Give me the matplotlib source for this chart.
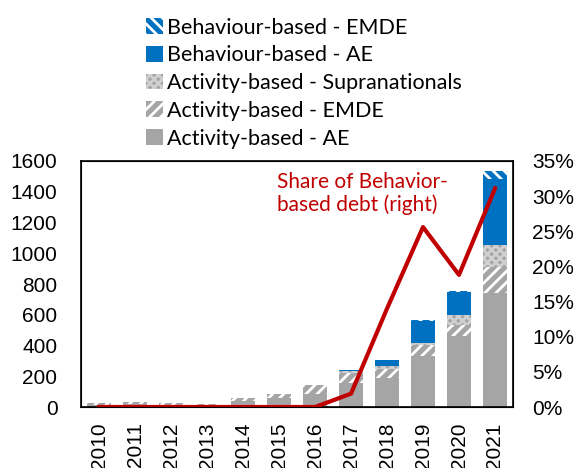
import matplotlib.pyplot as plt
import numpy as np

years = ['2010', '2011', '2012', '2013', '2014', '2015',
         '2016', '2017', '2018', '2019', '2020', '2021']

# stacked components (USD bn)
act_ae = [15, 20, 15, 12, 42, 61, 85, 159, 188, 330, 462, 741]
act_emde = [10, 15, 13, 10, 19, 22, 56, 60, 62, 71, 69, 169]
act_supra = [0, 0, 0, 0, 0, 0, 0, 14, 14, 18, 69, 146]
beh_ae = [0, 0, 0, 0, 0, 0, 0, 5, 44, 142, 149, 429]
beh_emde = [0, 0, 0, 0, 0, 0, 0, 0, 0, 3, 5, 49]

# share of behaviour-based debt, percent (right axis)
share = [0, 0, 0, 0, 0, 0, 0, 1.9, 14.0, 25.6, 18.8, 31.1]

gray = '#a5a5a5'
blue = '#0070c0'
red = '#c00000'

plt.rcParams['font.family'] = ['Liberation Sans', 'DejaVu Sans']
plt.rcParams['hatch.linewidth'] = 2.0

fig = plt.figure(figsize=(5.79, 4.68), dpi=100)
ax = fig.add_axes([0.14, 0.1303, 0.746, 0.5257])

x = np.arange(len(years))
w = 0.67

b0 = np.zeros(len(years))
h1 = ax.bar(x, act_ae, w, bottom=b0, color=gray, linewidth=0,
            label='Activity-based - AE')
b0 = b0 + act_ae
h2 = ax.bar(x, act_emde, w, bottom=b0, facecolor=gray, edgecolor='white',
            hatch='///', linewidth=0, label='Activity-based - EMDE')
b0 = b0 + act_emde
h3 = ax.bar(x, act_supra, w, bottom=b0, facecolor=gray, edgecolor='#d0d0d0',
            hatch='xxxx', linewidth=0, label='Activity-based - Supranationals')
b0 = b0 + act_supra
h4 = ax.bar(x, beh_ae, w, bottom=b0, color=blue, linewidth=0,
            label='Behaviour-based - AE')
b0 = b0 + beh_ae
h5 = ax.bar(x, beh_emde, w, bottom=b0, facecolor=blue, edgecolor='white',
            hatch='\\\\\\', linewidth=0, label='Behaviour-based - EMDE')

ax.set_xlim(-0.5, len(years) - 0.5)
ax.set_ylim(0, 1600)
ax.set_yticks(range(0, 1601, 200))
ax.set_xticks(x)
ax.set_xticklabels(years, rotation=90)
ax.tick_params(axis='both', labelsize=15, length=0)
ax.tick_params(axis='y', pad=17)
ax.tick_params(axis='x', pad=11)
for s in ax.spines.values():
    s.set_linewidth(1.2)
    s.set_color('black')

ax2 = ax.twinx()
ax2.plot(x, share, color=red, linewidth=3)
ax2.set_ylim(0, 35)
ax2.set_yticks(range(0, 36, 5))
ax2.set_yticklabels([f'{v}%' for v in range(0, 36, 5)])
ax2.tick_params(axis='y', labelsize=15, length=0, pad=14)

ax2.text(4.93, 33.4, 'Share of Behavior-\nbased debt (right)', color=red,
         fontsize=15, family=['Lato', 'DejaVu Sans'], va='top', ha='left',
         linespacing=1.15)

fig.legend(handles=[h5, h4, h3, h2, h1], loc='upper left',
           bbox_to_anchor=(0.229, 0.99), frameon=False,
           prop={'family': ['Lato', 'DejaVu Sans'], 'size': 15.5},
           handlelength=0.8, handleheight=0.75, handletextpad=0.2,
           labelspacing=0.36, borderaxespad=0.2)

fig.savefig('out.png', dpi=100)
